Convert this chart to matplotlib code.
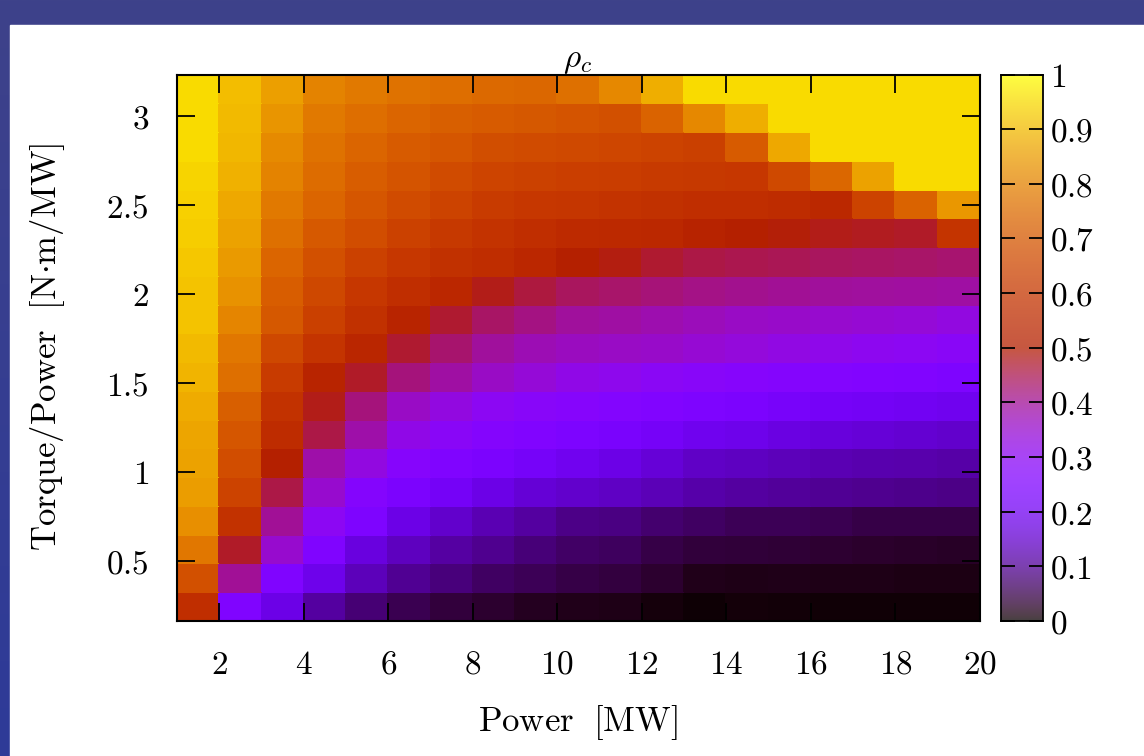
import matplotlib
matplotlib.use('Agg')
import matplotlib.pyplot as plt
import numpy as np
from matplotlib.ticker import FuncFormatter
from matplotlib.patches import Rectangle
from matplotlib.colors import LinearSegmentedColormap

# cell edges: power in MW, torque/power in N.m/MW
power_edges = np.arange(1, 21)
tq_edges = np.linspace(0.161, 3.233, 20)

x_ticks = [2, 4, 6, 8, 10, 12, 14, 16, 18, 20]
y_ticks = [0.5, 1, 1.5, 2, 2.5, 3]
cb_ticks = [0, 0.1, 0.2, 0.3, 0.4, 0.5, 0.6, 0.7, 0.8, 0.9, 1]

# rho_c, one row per torque/power band, bottom row first
rho_rows = [
    [.565, .25, .18, .108, .075, .052, .038, .030, .020, .016, .014, .007, .003, .006, .005, .004, .004, .004, .004],
    [.678, .40, .25, .186, .13, .098, .08, .063, .055, .045, .040, .030, .016, .014, .015, .014, .014, .012, .012],
    [.775, .475, .35, .25, .17, .135, .11, .095, .078, .065, .06, .045, .037, .036, .034, .031, .028, .026, .024],
    [.825, .58, .40, .30, .245, .18, .148, .124, .108, .089, .085, .071, .063, .055, .055, .052, .045, .045, .045],
    [.85, .64, .455, .35, .27, .238, .21, .18, .158, .148, .14, .127, .115, .108, .103, .099, .095, .092, .088],
    [.86, .67, .50, .385, .33, .275, .252, .238, .215, .195, .18, .16, .142, .137, .13, .124, .12, .118, .114],
    [.865, .695, .555, .455, .385, .32, .29, .27, .255, .24, .23, .214, .193, .186, .173, .166, .16, .154, .148],
    [.875, .72, .58, .485, .42, .36, .33, .30, .285, .275, .265, .255, .245, .238, .22, .214, .207, .20, .193],
    [.89, .758, .615, .52, .475, .42, .39, .36, .34, .32, .31, .295, .285, .275, .27, .265, .26, .255, .245],
    [.90, .775, .655, .59, .53, .47, .43, .395, .375, .365, .36, .355, .345, .335, .325, .315, .305, .30, .29],
    [.915, .805, .70, .63, .575, .52, .47, .435, .415, .395, .39, .38, .37, .36, .355, .35, .345, .34, .33],
    [.915, .83, .715, .655, .60, .565, .535, .485, .46, .44, .432, .422, .412, .406, .401, .396, .394, .392, .39],
    [.92, .845, .735, .68, .635, .60, .575, .56, .535, .50, .49, .47, .456, .45, .446, .44, .437, .433, .428],
    [.93, .86, .76, .705, .67, .635, .605, .585, .565, .55, .545, .54, .515, .50, .495, .485, .48, .475, .59],
    [.935, .87, .78, .735, .695, .665, .64, .615, .60, .595, .585, .575, .565, .565, .555, .54, .64, .73, .84],
    [.94, .885, .80, .75, .715, .69, .665, .645, .635, .625, .62, .61, .605, .60, .66, .74, .86, .95, .95],
    [.95, .895, .815, .765, .735, .71, .695, .675, .665, .66, .65, .64, .63, .71, .87, .95, .95, .95, .95],
    [.95, .90, .835, .78, .755, .735, .72, .71, .70, .69, .68, .73, .81, .88, .95, .95, .95, .95, .95],
    [.95, .905, .855, .80, .78, .765, .755, .745, .74, .76, .81, .88, .95, .95, .95, .95, .95, .95, .95],
]
rho = np.array(rho_rows)

plt.rcParams['mathtext.fontset'] = 'cm'
plt.rcParams['font.family'] = ['DejaVu Serif']

W, H = 1144, 756
fig = plt.figure(figsize=(W / 100, H / 100), dpi=100)

# gnuplot palette with fine steps so near-zero cells are not clipped to black
cmap = plt.get_cmap('gnuplot').resampled(4096)

# blue slide frame behind a white panel
bg = fig.add_axes([0, 0, 1, 1], zorder=-10)
bg_cmap = LinearSegmentedColormap.from_list('frame', ['#3e428a', '#2e3a98'])
bg.imshow(np.linspace(0, 1, 256).reshape(-1, 1), cmap=bg_cmap, aspect='auto',
          extent=[0, 1, 0, 1], origin='upper')
bg.add_patch(Rectangle((10 / W, 0), 1, 1 - 25 / H, color='white'))
bg.set_xlim(0, 1)
bg.set_ylim(0, 1)
bg.set_axis_off()

bottom = (H - 621) / H
height = (621 - 74.5) / H
ax = fig.add_axes([177 / W, bottom, (980 - 177) / W, height])
ax.pcolormesh(power_edges, tq_edges, rho, cmap=cmap, vmin=0, vmax=1,
              shading='flat', edgecolors='face', linewidth=0.3)
ax.set_xlim(power_edges[0], power_edges[-1])
ax.set_ylim(tq_edges[0], tq_edges[-1])
ax.set_xticks(x_ticks)
ax.set_yticks(y_ticks)
fmt = FuncFormatter(lambda v, p: r'$%g$' % v)
ax.xaxis.set_major_formatter(fmt)
ax.yaxis.set_major_formatter(fmt)
ax.tick_params(direction='in', length=13, width=1.3, top=True, right=True,
               labelsize=24, pad=20)
for s in ax.spines.values():
    s.set_linewidth(1.5)

cax = fig.add_axes([1001 / W, bottom, 42 / W, height])
cax.imshow(np.linspace(0, 1, 512).reshape(-1, 1), cmap=cmap, alpha=0.75,
           aspect='auto', extent=[0, 1, 0, 1], origin='lower')
cax.set_xticks([])
cax.set_yticks(cb_ticks)
cax.yaxis.set_major_formatter(fmt)
cax.tick_params(axis='y', direction='in', length=10, width=1.3, left=True, right=True,
                labelleft=False, labelright=True, labelsize=24, pad=5)
for s in cax.spines.values():
    s.set_linewidth(1.3)

fig.text(578 / W, 1 - 723 / H, r'$\mathrm{Power\ \ [MW]}$', ha='center', va='center', fontsize=25)
fig.text(48 / W, 1 - 347 / H, r'$\mathrm{Torque/Power\ \ [N{\cdot}m/MW]}$', ha='center',
         va='center', rotation=90, fontsize=25)
fig.text(578 / W, 1 - 60 / H, r'$\rho_c$', ha='center', va='center', fontsize=24)

fig.savefig('out.png', dpi=100)
